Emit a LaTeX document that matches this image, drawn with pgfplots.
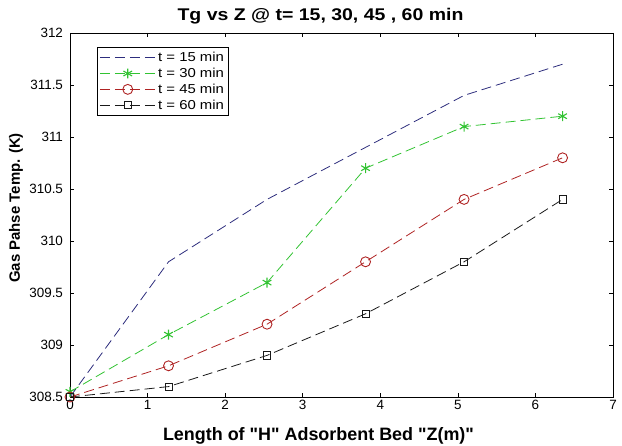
\documentclass[border=0pt]{standalone}
\usepackage{pgfplots}
\pgfplotsset{compat=1.18}
\usepackage{fontspec}
\setmainfont{Liberation Sans}[Ligatures=TeXOff]
\definecolor{c15}{RGB}{45,45,125}
\definecolor{c30}{RGB}{50,195,50}
\definecolor{c45}{RGB}{175,35,35}
\definecolor{c60}{RGB}{25,25,25}
\newcommand{\legtxt}[1]{\scalebox{1.15}[1]{#1}}
\begin{document}
\begin{tikzpicture}
\begin{axis}[
  name=ax,
  scale only axis,
  width=543bp, height=364bp,
  xmin=0, xmax=7, ymin=308.5, ymax=312,
  xtick={0,1,...,7},
  ytick={308.5,309,309.5,310,310.5,311,311.5,312},
  yticklabels={308.5,309,309.5,310,310.5,311,311.5,312},
  tick align=inside,
  major tick length=4.5pt,
  tick style={black, line width=0.6pt},
  axis line style={black, line width=0.9pt},
  /pgf/number format/assume math mode=true,
  ticklabel style={font=\fontsize{13.5}{15}\selectfont},
  yticklabel style={xshift=-3.5bp},
  title={\legtxt{\bfseries Tg vs Z @ t= 15, 30, 45 , 60 min}},
  title style={font=\fontsize{17}{19}\selectfont, at={(0.5,1)}, anchor=center, yshift=10.5bp, xshift=-21bp},
  xlabel={\bfseries Length of "H" Adsorbent Bed "Z(m)"},
  ylabel={\bfseries Gas Pahse Temp. (K)},
  xlabel style={font=\fontsize{18}{20}\selectfont, at={(0.5,0)}, anchor=center, yshift=-39bp, xshift=-23bp},
  ylabel style={font=\fontsize{15}{17}\selectfont, at={(0,0.5)}, anchor=center, yshift=54bp, xshift=7bp},
  legend style={at={(0.0497,0.962)}, anchor=north west, draw=black, line width=0.8pt,
    font=\fontsize{13}{15}\selectfont, inner xsep=2pt, inner ysep=3pt, row sep=1pt},
  legend cell align=left,
  legend image code/.code={%
    \draw[mark repeat=2,mark phase=2] plot coordinates {(0bp,0bp) (28bp,0bp) (56bp,0bp)};},
  every axis plot/.append style={line width=0.8pt, dash pattern=on 10bp off 5bp},
]
\addplot[color=c15, mark=none] coordinates {(0,308.5) (1.27,309.8) (2.54,310.4) (3.81,310.9) (5.08,311.4) (6.35,311.7)};
\addlegendentry{\legtxt{t = 15 min}}
\addplot[color=c30, mark=asterisk, mark size=5pt, mark options={solid, line width=1.1pt}] coordinates {(0,308.55) (1.27,309.1) (2.54,309.6) (3.81,310.7) (5.08,311.1) (6.35,311.2)};
\addlegendentry{\legtxt{t = 30 min}}
\addplot[color=c45, mark=o, mark size=5pt, mark options={solid, line width=0.9pt}] coordinates {(0,308.5) (1.27,308.8) (2.54,309.2) (3.81,309.8) (5.08,310.4) (6.35,310.8)};
\addlegendentry{\legtxt{t = 45 min}}
\addplot[color=c60, mark=square, mark size=3.6pt, mark options={solid, line width=0.7pt}] coordinates {(0,308.5) (1.27,308.6) (2.54,308.9) (3.81,309.3) (5.08,309.8) (6.35,310.4)};
\addlegendentry{\legtxt{t = 60 min}}
\end{axis}
\pgfresetboundingbox
\path ([xshift=-70bp,yshift=-48bp]ax.south west) rectangle ([xshift=9bp,yshift=33bp]ax.north east);
\end{tikzpicture}
\end{document}
